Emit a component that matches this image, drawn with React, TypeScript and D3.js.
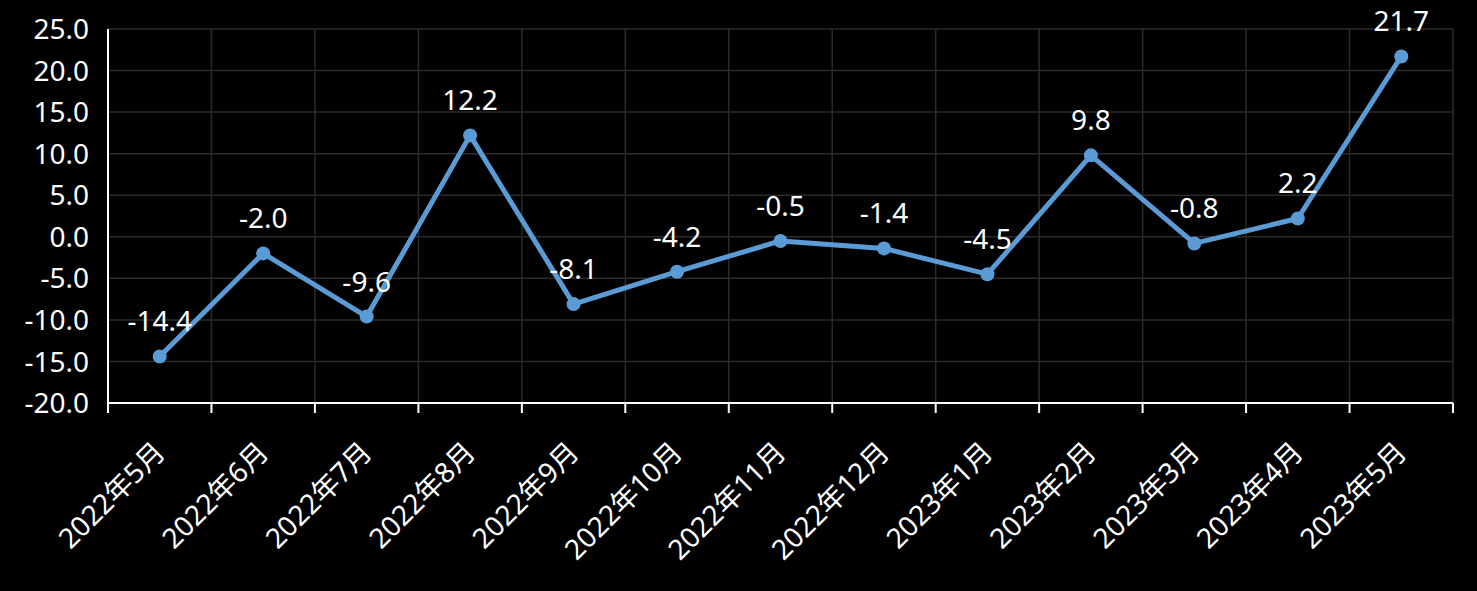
import React from "react";
import * as d3 from "d3";

const categories = [
  "2022年5月", "2022年6月", "2022年7月", "2022年8月", "2022年9月", "2022年10月",
  "2022年11月", "2022年12月", "2023年1月", "2023年2月", "2023年3月", "2023年4月", "2023年5月",
];
const values = [-14.4, -2.0, -9.6, 12.2, -8.1, -4.2, -0.5, -1.4, -4.5, 9.8, -0.8, 2.2, 21.7];
const yTicks = [-20, -15, -10, -5, 0, 5, 10, 15, 20, 25];

const W = 1477;
const H = 591;
const left = 108;
const right = 1453;
const top = 29;
const bottom = 403;
const FONT = '"Noto Sans", "Noto Sans CJK SC", sans-serif';
const LINE = "#5b9bd5";
const GRID = "#2b2b2b";

export default function App() {
  const x = d3.scaleBand<string>().domain(categories).range([left, right]).padding(0);
  const y = d3.scaleLinear().domain([-20, 25]).range([bottom, top]);
  const cx = (c: string) => (x(c) as number) + x.bandwidth() / 2;
  const line = d3
    .line<number>()
    .x((_, i) => cx(categories[i]))
    .y((d) => y(d));
  const boundaries = categories.map((c) => x(c) as number).concat([right]);

  return (
    <svg
      width={W}
      height={H}
      style={{ position: "absolute", left: 0, top: 0, background: "#000" }}
    >
      <rect x={0} y={0} width={W} height={H} fill="#000" />
      {yTicks.map((t) => (
        <line key={"h" + t} x1={left} x2={right} y1={y(t)} y2={y(t)} stroke={GRID} strokeWidth={1.5} />
      ))}
      {boundaries.map((b, i) => (
        <line key={"v" + i} x1={b} x2={b} y1={top} y2={bottom} stroke={GRID} strokeWidth={1.5} />
      ))}
      <line x1={left} x2={left} y1={top} y2={bottom} stroke="#fff" strokeWidth={2} />
      <line x1={left} x2={right} y1={bottom} y2={bottom} stroke="#fff" strokeWidth={2} />
      {boundaries.map((b, i) => (
        <line key={"t" + i} x1={b} x2={b} y1={bottom} y2={bottom + 10} stroke="#fff" strokeWidth={2} />
      ))}
      {yTicks.map((t) => (
        <text
          key={"yl" + t}
          x={89}
          y={y(t)}
          dy="0.36em"
          textAnchor="end"
          fill="#fff"
          fontFamily={FONT}
          fontSize={28}
        >
          {t.toFixed(1)}
        </text>
      ))}
      {categories.map((c) => (
        <text
          key={"xl" + c}
          transform={`translate(${cx(c) + 7},${454}) rotate(-45)`}
          textAnchor="end"
          fill="#fff"
          fontFamily={FONT}
          fontSize={28}
        >
          {c}
        </text>
      ))}
      <path d={line(values) || ""} fill="none" stroke={LINE} strokeWidth={5} strokeLinejoin="round" />
      {values.map((v, i) => (
        <circle key={"p" + i} cx={cx(categories[i])} cy={y(v)} r={7} fill={LINE} />
      ))}
      {values.map((v, i) => (
        <text
          key={"dl" + i}
          x={cx(categories[i])}
          y={y(v) - 25}
          textAnchor="middle"
          fill="#fff"
          fontFamily={FONT}
          fontSize={28}
        >
          {v.toFixed(1)}
        </text>
      ))}
    </svg>
  );
}
